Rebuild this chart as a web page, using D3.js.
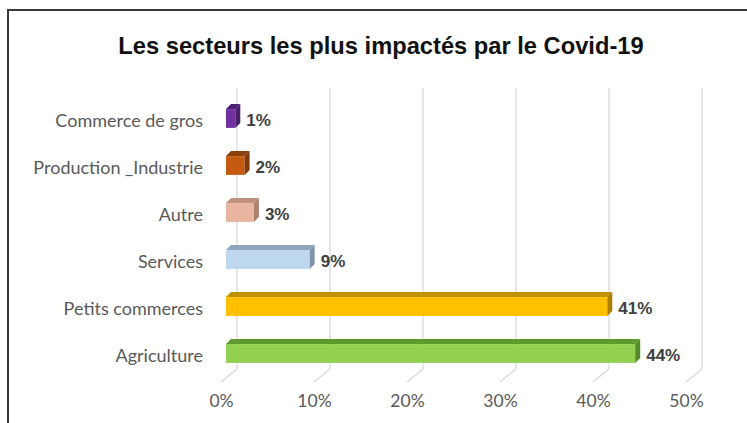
<!DOCTYPE html>
<html>
<head>
<meta charset="utf-8">
<script src="https://cdn.jsdelivr.net/npm/d3@7"></script>
<style>
  body { margin: 0; background: #fff; }
</style>
</head>
<body>
<div id="chart"></div>
<script>
// data, top to bottom as drawn
const categories = ["Commerce de gros", "Production _Industrie", "Autre", "Services", "Petits commerces", "Agriculture"];
const values = [1, 2, 3, 9, 41, 44];
const ticks = [0, 10, 20, 30, 40, 50];
const frontColors = ["#7030a0", "#c55a11", "#e9b5a1", "#bdd7ee", "#ffc000", "#92d050"];
const darkColors = ["#4f2173", "#8c400c", "#c0907c", "#8ea5bd", "#bf9000", "#5f9a30"];

const width = 747, height = 423;

const svg = d3.select("#chart").append("svg")
    .attr("width", width)
    .attr("height", height);

svg.append("rect").attr("width", width).attr("height", height).attr("fill", "#fff");

// chart frame (only left and top edges visible)
svg.append("path")
    .attr("d", `M8,${height} V10 H${width}`)
    .attr("fill", "none")
    .attr("stroke", "#3a3a3a")
    .attr("stroke-width", 2);

svg.append("text")
    .attr("x", 381)
    .attr("y", 54)
    .attr("text-anchor", "middle")
    .style("font", "bold 23.7px 'Liberation Sans', Arial, sans-serif")
    .attr("fill", "#111")
    .text("Les secteurs les plus impactés par le Covid-19");

// three scales: back wall, bar plane, front floor edge
const xBack = d3.scaleLinear().domain([0, 50]).range([237, 702]);
const xBar = d3.scaleLinear().domain([0, 50]).range([226, 691]);
const xFront = d3.scaleLinear().domain([0, 50]).range([221, 686]);
const backTop = 88, backBottom = 369, frontBottom = 382;

const y = d3.scaleBand().domain(categories).range([95, 377]).paddingInner(0.6).paddingOuter(0.3);
const depth = 5;

// gridlines on back wall and floor
const grid = svg.append("g");
grid.selectAll(".v").data(ticks).enter().append("line")
    .attr("x1", d => xBack(d)).attr("x2", d => xBack(d))
    .attr("y1", backTop).attr("y2", backBottom)
    .attr("stroke", "#d9d9d9").attr("stroke-width", 1.3);
grid.selectAll(".f").data(ticks).enter().append("line")
    .attr("x1", d => xBack(d)).attr("x2", d => xFront(d))
    .attr("y1", backBottom).attr("y2", frontBottom)
    .attr("stroke", "#d9d9d9").attr("stroke-width", 1.3);

// x axis labels
const xAxis = svg.append("g")
    .attr("transform", `translate(0,${frontBottom + 10})`)
    .call(d3.axisBottom(xFront).tickValues(ticks).tickFormat(d => d + "%").tickSize(0));
xAxis.select(".domain").remove();
xAxis.selectAll("text")
    .attr("dy", "0.71em")
    .attr("fill", "#595959")
    .style("font", "17.5px Lato, sans-serif");

// bars
const bars = svg.append("g").selectAll("g")
    .data(categories).enter().append("g");

bars.append("rect")
    .attr("x", xBar(0))
    .attr("y", d => y(d))
    .attr("width", (d, i) => xBar(values[i]) - xBar(0))
    .attr("height", y.bandwidth())
    .attr("fill", (d, i) => frontColors[i]);

// top face
bars.append("path")
    .attr("d", (d, i) => {
        const x0 = xBar(0), x1 = xBar(values[i]), t = y(d);
        return `M${x0},${t} L${x0 + depth},${t - depth} L${x1 + depth},${t - depth} L${x1},${t} Z`;
    })
    .attr("fill", (d, i) => darkColors[i]);

// side face
bars.append("path")
    .attr("d", (d, i) => {
        const x1 = xBar(values[i]), t = y(d), b = t + y.bandwidth();
        return `M${x1},${t} L${x1 + depth},${t - depth} L${x1 + depth},${b - depth} L${x1},${b} Z`;
    })
    .attr("fill", (d, i) => d3.color(darkColors[i]).darker(0.3));

// value labels
bars.append("text")
    .attr("x", (d, i) => xBar(values[i]) + depth + 6)
    .attr("y", d => y(d) + y.bandwidth() / 2 + 3)
    .attr("dominant-baseline", "middle")
    .attr("fill", "#404040")
    .style("font", "bold 17px 'Liberation Sans', Arial, sans-serif")
    .text((d, i) => values[i] + "%");

// category labels
svg.append("g").selectAll("text")
    .data(categories).enter().append("text")
    .attr("x", 203)
    .attr("y", d => y(d) + y.bandwidth() / 2 + 4)
    .attr("text-anchor", "end")
    .attr("dominant-baseline", "middle")
    .attr("fill", "#595959")
    .style("font", "18px Lato, sans-serif")
    .text(d => d);
</script>
</body>
</html>
